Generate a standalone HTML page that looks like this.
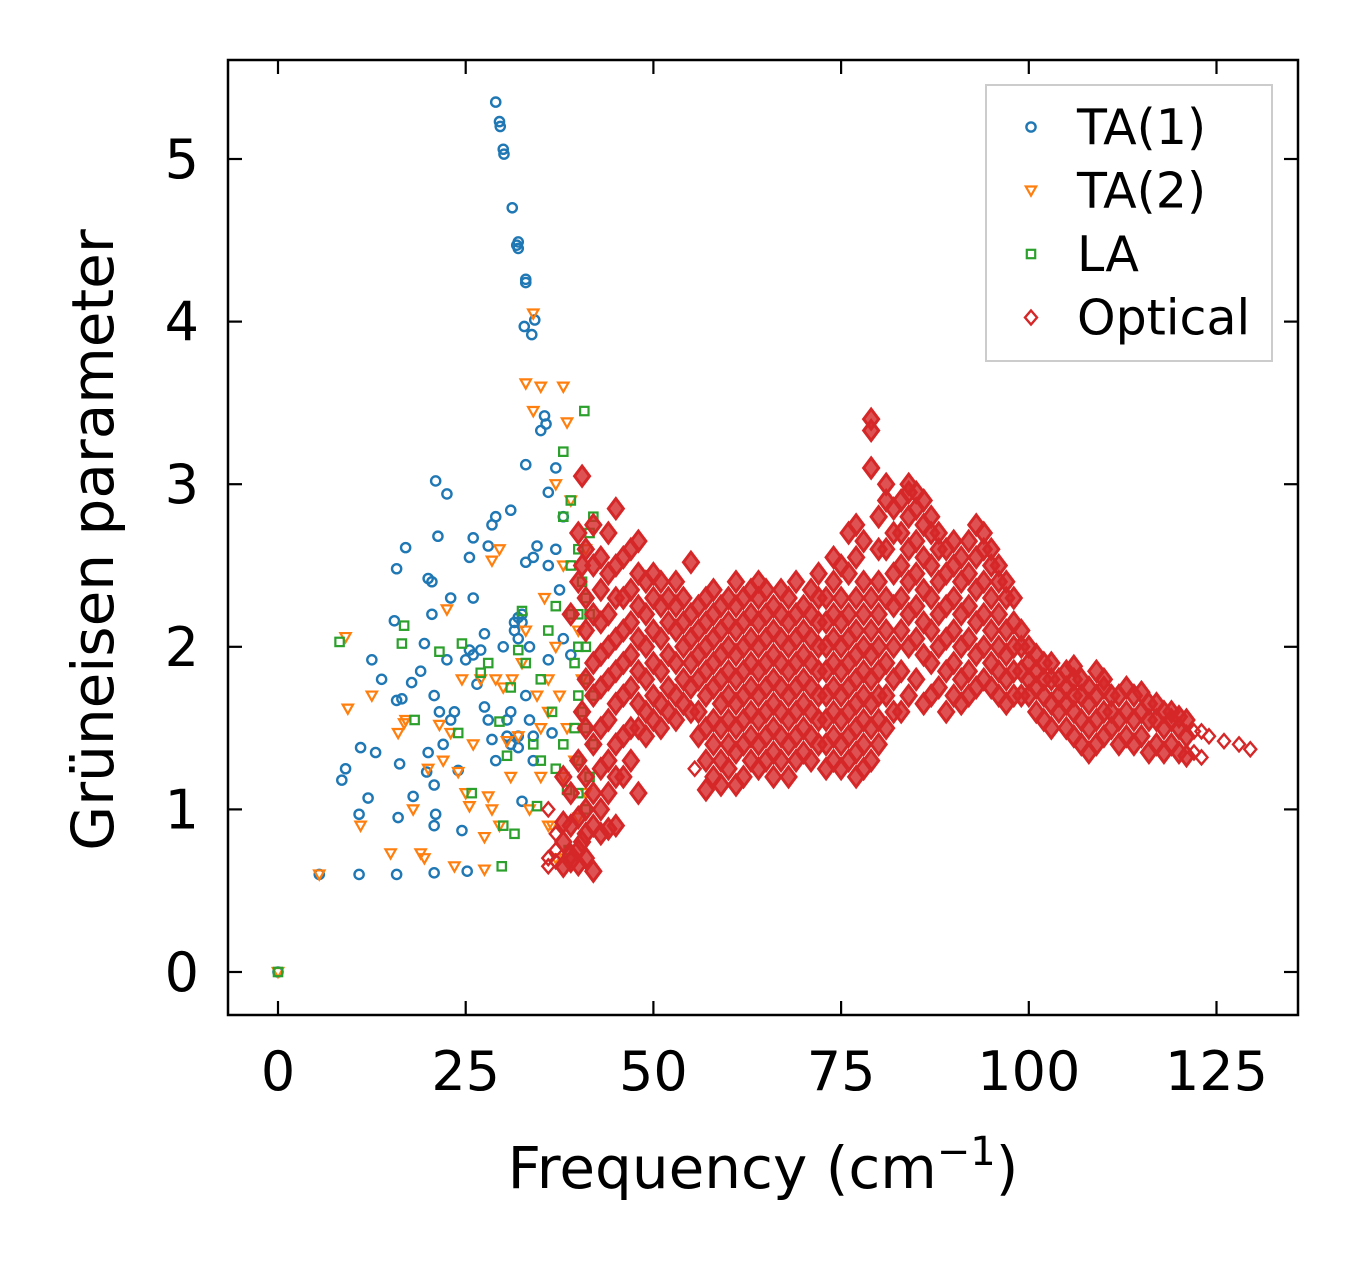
<!DOCTYPE html>
<html><head><meta charset="utf-8">
<style>
html,body{margin:0;padding:0;background:#fff;}
svg{display:block;font-family:"Liberation Sans","DejaVu Sans",sans-serif;}
</style></head>
<body>
<svg id="chart" width="1357" height="1264" viewBox="0 0 1357 1264" xmlns="http://www.w3.org/2000/svg">
<rect width="1357" height="1264" fill="#fff"/>
<g id="marks"></g>
<g id="axes"></g>
<text x="763" y="1188" font-size="58" text-anchor="middle" font-family="DejaVu Sans, Liberation Sans, sans-serif">Frequency (cm<tspan dy="-23" font-size="40">−1</tspan><tspan dy="23">)</tspan></text>
<text transform="translate(113,540) rotate(-90)" font-size="58" text-anchor="middle" font-family="DejaVu Sans, Liberation Sans, sans-serif">Grüneisen parameter</text>
<g id="legend">
<rect x="986" y="85" width="286" height="276" fill="#fff" stroke="#cccccc" stroke-width="2"/>
</g>
</svg>
<script>
const xTicks=[0,25,50,75,100,125];
const yTicks=[0,1,2,3,4,5];
const ta1=[[0,0],[5.5,0.6],[10.8,0.6],[15.8,0.6],[20.8,0.61],[25.2,0.62],[8.5,1.18],[9,1.25],[10.8,0.97],[11,1.38],[12,1.07],[12.5,1.92],[13,1.35],[13.8,1.8],[15.5,2.16],[15.8,2.48],[15.8,1.67],[16,0.95],[16.2,1.28],[16.5,1.68],[17,2.61],[17.8,1.78],[18,1.08],[19,1.85],[19.5,2.02],[19.8,1.23],[20,2.42],[20,1.35],[20.5,2.4],[20.5,2.2],[20.8,1.7],[20.8,1.15],[20.8,0.9],[21,0.97],[21,3.02],[21.3,2.68],[21.5,1.6],[22,1.4],[22.5,1.92],[22.5,2.94],[23,1.55],[23,2.3],[23.5,1.6],[24,1.24],[24.5,0.87],[25,1.92],[25.5,2.55],[25.5,1.98],[26,2.67],[26,2.3],[26,1.95],[26.5,1.77],[27,1.98],[27.5,1.63],[27.5,2.08],[28,2.62],[28,1.55],[28.5,2.75],[28.5,1.43],[29,1.3],[29,2.8],[29,5.35],[29.5,5.23],[29.6,5.2],[30,2.0],[30,5.06],[30.1,5.03],[30.5,1.55],[31,2.84],[31.2,4.7],[31.5,2.1],[31.8,4.47],[32,4.45],[32,4.49],[32,2.18],[32,1.45],[32.5,1.05],[32.5,2.15],[32.8,3.97],[33,4.26],[33,4.24],[33,3.12],[33,2.52],[33.5,2.0],[33.5,1.55],[33.8,3.92],[34,2.55],[34,1.3],[34.2,4.01],[34.5,2.62],[35,3.33],[35.5,3.42],[35.7,3.37],[36,2.95],[36,2.5],[36,1.92],[36.5,1.47],[37,3.1],[37,2.6],[37.5,2.35],[38,2.8],[38,2.05],[39,1.95],[32,1.38],[31,1.4],[33,1.7],[34,1.45],[32,2.05],[31.5,2.15],[32.5,2.2],[30.5,1.45],[31,1.6]];
const ta2=[[0,0],[5.5,0.6],[9,2.06],[9.3,1.62],[11,0.9],[12.5,1.7],[15,0.73],[16,1.47],[16.8,1.53],[17,1.55],[18,1.0],[19,0.73],[19.5,0.7],[20,1.25],[21.5,1.52],[22,1.3],[22.5,2.23],[23,1.47],[23.5,0.65],[24,1.23],[24.5,1.8],[25,1.1],[25.5,1.02],[26,1.4],[27,1.8],[27.5,0.83],[27.5,0.63],[28,1.08],[28.5,2.53],[28.5,1.0],[29,1.8],[29.5,2.6],[29.5,0.9],[30,1.75],[30.5,1.42],[31,1.2],[31.2,1.8],[32,1.45],[32.5,1.9],[33,3.62],[33,2.1],[33.5,1.0],[34,4.05],[34,3.45],[34.5,1.7],[35,3.6],[35,1.2],[35.5,2.3],[36,1.6],[36,0.9],[36.5,0.9],[37,3.0],[37,2.0],[37.5,1.7],[38,3.6],[38,2.5],[38.5,3.38],[38.5,1.5],[39,2.9],[39.5,1.3],[40,2.1],[40,0.95],[40.5,1.8],[41,2.6],[41,1.1],[36,1.8],[37,0.7],[38,1.2],[35,1.5]];
const la=[[0,0],[8.2,2.03],[16.8,2.13],[16.5,2.02],[18.2,1.55],[21.5,1.97],[24.5,2.02],[24,1.47],[25.8,1.1],[27,1.84],[28,1.9],[29.5,1.54],[29.8,0.65],[30,0.9],[30.5,1.33],[31,1.75],[31.5,0.85],[32,1.98],[32.5,2.22],[33,1.9],[34,1.4],[34.5,1.02],[35,1.8],[35,1.3],[36,2.1],[36.5,1.6],[37,1.25],[37,2.25],[38,3.2],[38,2.8],[38.5,1.12],[38.7,0.75],[39,2.9],[39,2.2],[39.5,1.5],[39.5,1.9],[40,2.6],[40,1.7],[40,1.3],[40.5,2.4],[40.8,3.45],[41,1.0],[41,2.0],[41,1.5],[41.5,2.7],[41.5,2.2],[41.5,1.2],[42,2.8],[42,1.7],[42,1.4],[40,2.2],[40.5,1.6],[41,2.3],[40,1.1],[41,1.8],[39,2.5],[38,1.4],[40,2.0]];
const opticalFreq=[36,37,38,39,40,40.5,41,42,43,44,45,46,47,48,49,50,51,52,53,54,55,55.5,56,57,58,59,60,61,62,63,64,65,66,67,68,69,70,71,72,73,74,75,76,77,78,79,80,81,82,83,84,85,86,87,88,89,90,91,92,93,94,95,96,97,98,99,100,101,102,103,104,105,106,107,108,109,110,111,112,113,114,115,116,117,118,119,120,121,122,123,124,126,128,129.5];
const opticalGamma=[
[0.65,0.7,1.0],[0.68,0.85,0.75],[0.65,0.8,0.92,1.2],[0.68,0.72,0.9,1.1,2.2],[0.66,0.75,0.95,1.3,2.4,2.7],[3.05,2.5,1.6,0.8],
[0.7,0.85,1.0,1.2,1.5,1.8,2.1,2.3,2.6],[0.62,0.9,1.1,1.4,1.7,1.9,2.2,2.5,2.75],[0.85,1.0,1.25,1.5,1.75,1.95,2.15,2.35,2.55],
[0.88,1.1,1.3,1.55,1.8,2.0,2.2,2.45,2.7],[0.9,1.2,1.4,1.65,1.85,2.05,2.3,2.5,2.85],[1.2,1.45,1.7,1.9,2.1,2.3,2.55],
[1.3,1.5,1.75,1.95,2.15,2.35,2.6],[1.1,1.5,1.65,1.85,2.05,2.25,2.45,2.65],[1.45,1.6,1.8,2.0,2.2,2.4],[1.55,1.7,1.9,2.1,2.3,2.45],
[1.5,1.65,1.85,2.05,2.25,2.4],[1.6,1.75,1.95,2.15,2.3],[1.55,1.7,1.9,2.1,2.25,2.4],[1.65,1.8,2.0,2.15,2.3],[1.6,1.75,1.9,2.05,2.2,2.52],[1.25],
[1.45,1.6,1.8,1.95,2.1,2.25],[1.12,1.3,1.5,1.7,1.85,2.0,2.15,2.3],[1.2,1.4,1.55,1.75,1.9,2.05,2.2,2.35],[1.15,1.3,1.5,1.65,1.8,1.95,2.1,2.25],
[1.25,1.4,1.55,1.7,1.85,2.0,2.15,2.3],[1.15,1.35,1.5,1.65,1.8,1.95,2.1,2.25,2.4],[1.2,1.4,1.55,1.7,1.85,2.0,2.15,2.3],[1.3,1.45,1.6,1.75,1.9,2.05,2.2,2.35],
[1.25,1.4,1.55,1.7,1.85,2.0,2.15,2.3,2.4],[1.3,1.45,1.6,1.75,1.9,2.05,2.2,2.35],[1.2,1.35,1.5,1.65,1.8,1.95,2.1,2.25],[1.3,1.45,1.6,1.75,1.9,2.05,2.2,2.35],
[1.2,1.4,1.55,1.7,1.85,2.0,2.15,2.3],[1.3,1.45,1.6,1.75,1.9,2.05,2.2,2.4],[1.35,1.5,1.65,1.8,1.95,2.1,2.25],[1.3,1.45,1.6,1.75,1.9,2.05,2.2,2.35],
[1.4,1.55,1.7,1.85,2.0,2.15,2.3,2.45],[1.25,1.4,1.55,1.7,1.85,2.0,2.15,2.3],[1.3,1.45,1.6,1.75,1.9,2.05,2.2,2.4,2.55],[1.25,1.4,1.55,1.7,1.85,2.0,2.15,2.3,2.5],
[1.3,1.45,1.6,1.75,1.9,2.05,2.2,2.45,2.7],[1.2,1.35,1.5,1.65,1.8,1.95,2.1,2.3,2.55,2.75],[1.25,1.4,1.55,1.7,1.85,2.0,2.2,2.4,2.65],[1.3,1.5,1.65,1.8,1.95,2.1,2.3,3.1,3.33,3.4],
[1.4,1.55,1.7,1.85,2.0,2.2,2.4,2.6,2.8],[1.5,1.7,1.9,2.1,2.3,2.6,2.9,3.0],[1.6,1.8,2.0,2.25,2.45,2.7,2.85],[1.6,1.85,2.1,2.3,2.5,2.7,2.9],
[1.7,2.0,2.2,2.4,2.6,2.8,2.95,3.0],[1.8,2.05,2.25,2.45,2.65,2.85,2.95],[1.65,1.95,2.15,2.35,2.55,2.75,2.9],[1.7,1.9,2.1,2.3,2.5,2.7,2.8],
[1.75,2.0,2.2,2.4,2.6,2.7],[1.6,1.85,2.05,2.25,2.45,2.6],[1.7,1.9,2.1,2.3,2.5,2.65],[1.65,1.8,2.0,2.2,2.4,2.55],[1.7,1.85,2.05,2.25,2.45,2.65],
[1.75,1.95,2.15,2.35,2.55,2.75],[1.8,2.0,2.2,2.4,2.6,2.7],[1.75,1.9,2.1,2.3,2.5,2.6],[1.7,1.85,2.0,2.2,2.4,2.5],[1.65,1.8,1.95,2.1,2.3,2.4],
[1.7,1.85,2.0,2.15,2.3],[1.7,1.85,2.0,2.1],[1.7,1.8,1.9,2.0],[1.6,1.75,1.85,1.95],[1.55,1.7,1.8,1.9],[1.5,1.65,1.8,1.9],[1.6,1.7,1.8],
[1.5,1.65,1.75,1.85],[1.45,1.6,1.7,1.8,1.88],[1.4,1.55,1.7,1.8],[1.35,1.5,1.65,1.75],[1.4,1.55,1.7,1.85],[1.45,1.6,1.75,1.8],
[1.5,1.6,1.7],[1.4,1.55,1.7],[1.45,1.6,1.75],[1.4,1.55,1.7],[1.45,1.6,1.72],[1.35,1.55,1.65],[1.4,1.55,1.65],[1.35,1.5,1.6],
[1.4,1.55,1.6],[1.35,1.5,1.57],[1.33,1.45,1.55],[1.35,1.48],[1.32,1.48],[1.45],[1.42],[1.4],[1.37]];

const NS='http://www.w3.org/2000/svg';
const L=228,R=1298,T=60,B=1015;
function sx(v){return 278+v*7.508;}
function sy(v){return 972-v*162.6;}
const marks=document.getElementById('marks');
const axes=document.getElementById('axes');
const legend=document.getElementById('legend');
const C={ta1:'#1f77b4',ta2:'#ff7f0e',la:'#2ca02c',opt:'#d62728'};
function mk(tag,attrs,parent){const e=document.createElementNS(NS,tag);for(const k in attrs)e.setAttribute(k,attrs[k]);parent.appendChild(e);return e;}
function shape(kind,x,y,parent,dense){
  let e;
  if(kind==='ta1'){e=mk('circle',{cx:x,cy:y,r:4.6,fill:'none',stroke:C.ta1,'stroke-width':2.4},parent);}
  else if(kind==='ta2'){e=mk('path',{d:`M${x-5.2},${y-4} L${x+5.2},${y-4} L${x},${y+5.2} Z`,fill:'none',stroke:C.ta2,'stroke-width':2.2},parent);}
  else if(kind==='la'){e=mk('rect',{x:x-4.2,y:y-4.2,width:8.4,height:8.4,fill:'none',stroke:C.la,'stroke-width':2.2},parent);}
  else if(dense){e=mk('path',{d:`M${x},${y-10} L${x+7.5},${y} L${x},${y+10} L${x-7.5},${y} Z`,fill:C.opt,'fill-opacity':0.8,stroke:C.opt,'stroke-width':3},parent);}
  else {e=mk('path',{d:`M${x},${y-7} L${x+6},${y} L${x},${y+7} L${x-6},${y} Z`,fill:'none',stroke:C.opt,'stroke-width':2.4},parent);}
  return e;
}
ta1.forEach(p=>{const e=shape('ta1',sx(p[0]),sy(p[1]),marks);

});
ta2.forEach(p=>{const e=shape('ta2',sx(p[0]),sy(p[1]),marks);

});
la.forEach(p=>{const e=shape('la',sx(p[0]),sy(p[1]),marks);

});
opticalFreq.forEach((f,i)=>{const col=opticalGamma[i];const dense=col.length>=4||(f>100&&col.length>=3);col.forEach(g=>{const e=shape('opt',sx(f),sy(g),marks,dense);

});});

const fr=mk('rect',{x:L,y:T,width:R-L,height:B-T,fill:'none',stroke:'#000','stroke-width':2.5},axes);


xTicks.forEach(v=>{const x=sx(v);
 mk('line',{x1:x,y1:B,x2:x,y2:B-14,stroke:'#000','stroke-width':2.2},axes);
 mk('line',{x1:x,y1:T,x2:x,y2:T+14,stroke:'#000','stroke-width':2.2},axes);
 const t=mk('text',{x:x,y:1090,'font-size':54,'text-anchor':'middle','font-family':'DejaVu Sans, Liberation Sans, sans-serif'},axes);t.textContent=v;
 
 
});
yTicks.forEach(v=>{const y=sy(v);
 mk('line',{x1:L,y1:y,x2:L+14,y2:y,stroke:'#000','stroke-width':2.2},axes);
 mk('line',{x1:R,y1:y,x2:R-14,y2:y,stroke:'#000','stroke-width':2.2},axes);
 const t=mk('text',{x:199,y:y+19,'font-size':54,'text-anchor':'end','font-family':'DejaVu Sans, Liberation Sans, sans-serif'},axes);t.textContent=v;
 
 
});
const legItems=[['ta1','TA(1)'],['ta2','TA(2)'],['la','LA'],['opt','Optical']];
legItems.forEach((it,i)=>{const y=127+i*63.5;
 const m=shape(it[0],1031,y,legend,false);
 
 
 const t=mk('text',{x:1077,y:y+17,'font-size':49,'font-family':'DejaVu Sans, Liberation Sans, sans-serif'},legend);t.textContent=it[1];
 
 
});
</script>
</body></html>
